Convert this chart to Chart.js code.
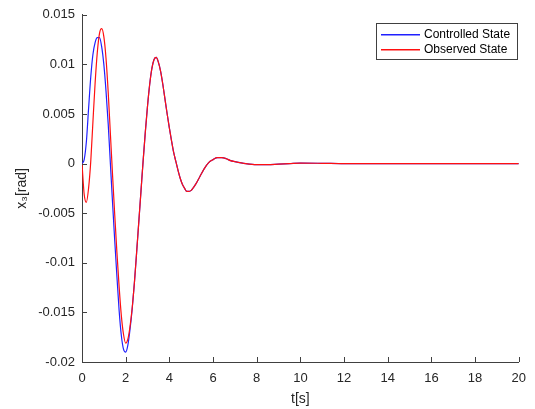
<!DOCTYPE html>
<html>
<head>
<meta charset="utf-8">
<script src="https://cdn.jsdelivr.net/npm/chart.js@4.4.0/dist/chart.umd.min.js"></script>
<style>
    body { margin: 0; background: #fff; }
    canvas { display: block; }
</style>
</head>
<body>
<canvas id="x3-chart" width="535" height="409"></canvas>
<script>
// time samples [s]
const TIEMPO = [0, 0.1, 0.2, 0.3, 0.4, 0.5, 0.6, 0.7, 0.8, 0.9,
    1.0, 1.1, 1.2, 1.3, 1.4, 1.5, 1.6, 1.7, 1.8, 1.9,
    2.0, 2.1, 2.2, 2.3, 2.4, 2.5, 2.6, 2.7, 2.8, 2.9,
    3.0, 3.1, 3.2, 3.3, 3.4, 3.5, 3.6, 3.7, 3.8, 3.9,
    4.0, 4.1, 4.2, 4.3, 4.4, 4.5, 4.6, 4.7, 4.8, 4.9,
    5.0, 5.2, 5.4, 5.6, 5.8, 6.0, 6.2, 6.4, 6.6, 6.8,
    7.0, 7.5, 8.0, 8.5, 9.0, 9.5, 10, 11, 12, 13,
    14, 15, 16, 17, 18, 19, 20]

const CONTROLADO = [0, 0.0004, 0.0022, 0.0055, 0.0087, 0.0110, 0.0122, 0.0127, 0.0127, 0.0118,
    0.0100, 0.0073, 0.0040, 0.0000, -0.0040, -0.0078, -0.0114, -0.0148, -0.0173, -0.0187,
    -0.0190, -0.0183, -0.0167, -0.0146, -0.0120, -0.0090, -0.0059, -0.0028, 0.0003, 0.0032,
    0.0058, 0.0080, 0.0096, 0.0105, 0.0107, 0.0102, 0.0093, 0.0080, 0.0065, 0.0050,
    0.0036, 0.0023, 0.0011, 0.0002, -0.0007, -0.0015, -0.0021, -0.0025, -0.0028, -0.0028,
    -0.0027, -0.0021, -0.0013, -0.0005, 0.0001, 0.0004, 0.0006, 0.0006, 0.0005, 0.0003,
    0.0002, 0.0000, -0.0001, -0.0001, -0.00005, 0, 0.00005, 0.00003, 0, 0,
    0, 0, 0, 0, 0, 0, 0]

const OBSERVADO = [0, -0.0031, -0.0039, -0.0025, 0.0002, 0.0042, 0.0081, 0.0112, 0.0131, 0.0136,
    0.0128, 0.0106, 0.0072, 0.0030, -0.0012, -0.0052, -0.0090, -0.0124, -0.0153, -0.0172,
    -0.0181, -0.0177, -0.0164, -0.0145, -0.0120, -0.0090, -0.0059, -0.0028, 0.0003, 0.0032,
    0.0058, 0.0080, 0.0096, 0.0105, 0.0107, 0.0102, 0.0093, 0.0080, 0.0065, 0.0050,
    0.0036, 0.0023, 0.0011, 0.0002, -0.0007, -0.0015, -0.0021, -0.0025, -0.0028, -0.0028,
    -0.0027, -0.0021, -0.0013, -0.0005, 0.0001, 0.0004, 0.0006, 0.0006, 0.0005, 0.0003,
    0.0002, 0.0000, -0.0001, -0.0001, -0.00005, 0, 0.00005, 0.00003, 0, 0,
    0, 0, 0, 0, 0, 0, 0]

const X_TICKS = [0, 2, 4, 6, 8, 10, 12, 14, 16, 18, 20]
const Y_TICKS = [-0.02, -0.015, -0.01, -0.005, 0, 0.005, 0.01, 0.015]

const AZUL = "#2020ff";
const ROJO = "#ff1010";
const EJE = "#404040";
const TEXTO = "#262626";
const FUENTE = "Arial, 'Liberation Sans', sans-serif";

function puntos(valores) {
    return TIEMPO.map((t, i) => ({ x: t, y: valores[i] }))
}

// inward tick marks, matlab style
const marcasInternas = {
    id: "marcasInternas",
    afterDatasetsDraw(chart) {
        const c = chart.ctx
        const area = chart.chartArea
        const sx = chart.scales.x
        const sy = chart.scales.y
        c.save()
        c.strokeStyle = EJE
        c.lineWidth = 1
        c.beginPath()
        for (let v of X_TICKS) {
            let px = Math.round(sx.getPixelForValue(v)) + 0.5
            c.moveTo(px, area.bottom)
            c.lineTo(px, area.bottom - 5)
        }
        for (let v of Y_TICKS) {
            let py = Math.round(sy.getPixelForValue(v)) + 0.5
            c.moveTo(area.left, py)
            c.lineTo(area.left + 5, py)
        }
        c.stroke()
        c.restore()
    }
}

// legend box in the upper right corner
const leyenda = {
    id: "leyenda",
    afterDraw(chart) {
        const c = chart.ctx
        const x0 = 376, y0 = 23, w = 141, h = 36
        const colores = [AZUL, ROJO]
        c.save()
        c.fillStyle = "#fff"
        c.fillRect(x0, y0, w, h)
        c.strokeStyle = EJE
        c.lineWidth = 1
        c.strokeRect(x0 + 0.5, y0 + 0.5, w, h)
        c.font = "12px " + FUENTE
        c.textBaseline = "middle"
        chart.data.datasets.forEach((ds, i) => {
            let y = y0 + 11 + i * 15
            c.fillStyle = colores[i]
            c.fillRect(x0 + 5, y, 39, 1.5)
            c.fillStyle = "#000"
            c.fillText(ds.label, x0 + 48, y + 1)
        })
        c.restore()
    }
}

var ctx = document.getElementById("x3-chart").getContext("2d");
var grafico = new Chart(ctx, {
    type: "line",
    data: {
        datasets: [{
                label: "Controlled State",
                data: puntos(CONTROLADO),
                borderColor: AZUL,
                borderWidth: 1.2,
                pointRadius: 0,
                cubicInterpolationMode: "monotone",
                order: 2
            },
            {
                label: "Observed State",
                data: puntos(OBSERVADO),
                borderColor: ROJO,
                borderWidth: 1.2,
                pointRadius: 0,
                cubicInterpolationMode: "monotone",
                order: 1
            }
        ]
    },
    options: {
        responsive: false,
        animation: false,
        layout: {
            padding: { top: 12, right: 8, left: 0, bottom: 0 }
        },
        plugins: {
            legend: { display: false },
            tooltip: { enabled: false }
        },
        scales: {
            x: {
                type: "linear",
                min: 0,
                max: 20,
                afterFit: (scale) => { scale.height = 47 },
                afterBuildTicks: (scale) => { scale.ticks = X_TICKS.map(v => ({ value: v })) },
                grid: { drawOnChartArea: false, drawTicks: false },
                border: { display: true, color: EJE, width: 1 },
                ticks: {
                    color: TEXTO,
                    padding: 9,
                    maxRotation: 0,
                    font: { family: FUENTE, size: 13 }
                },
                title: {
                    display: true,
                    text: "t[s]",
                    color: TEXTO,
                    padding: { top: 0, bottom: 1 },
                    font: { family: FUENTE, size: 14 }
                }
            },
            y: {
                type: "linear",
                min: -0.02,
                max: 0.015,
                afterFit: (scale) => { scale.width = 82 },
                afterBuildTicks: (scale) => { scale.ticks = Y_TICKS.map(v => ({ value: v })) },
                grid: { drawOnChartArea: false, drawTicks: false },
                border: { display: true, color: EJE, width: 1 },
                ticks: {
                    color: TEXTO,
                    padding: 7,
                    font: { family: FUENTE, size: 13 },
                    callback: (v) => Number(v.toFixed(3)).toString()
                },
                title: {
                    display: true,
                    text: "x₃[rad]",
                    color: TEXTO,
                    padding: { top: 14, bottom: 0 },
                    font: { family: FUENTE, size: 14 }
                }
            }
        }
    },
    plugins: [marcasInternas, leyenda]
});
</script>
</body>
</html>
